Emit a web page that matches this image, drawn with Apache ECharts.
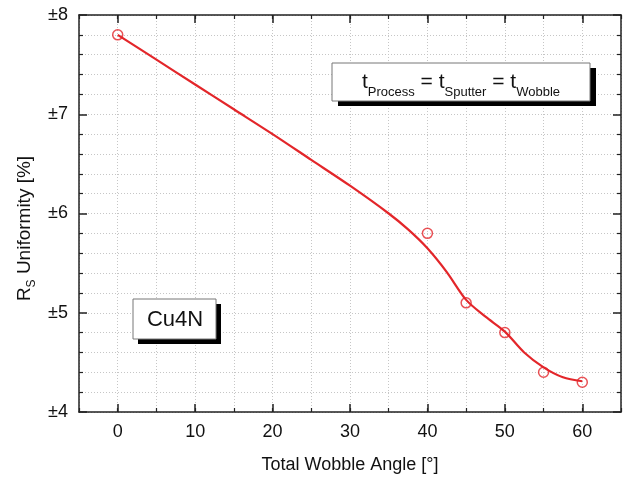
<!DOCTYPE html>
<html>
<head>
<meta charset="utf-8">
<script src="https://cdn.jsdelivr.net/npm/echarts@6/dist/echarts.min.js"></script>
<style>
html,body{margin:0;padding:0;background:#fff;}
#chart{width:624px;height:479px;}
</style>
</head>
<body>
<div id="chart"></div>
<script>
// ---- data ----
const X_TICKS = [0, 10, 20, 30, 40, 50, 60];
const Y_TICKS = [4, 5, 6, 7, 8];
const MEAS_X = [0, 40, 45, 50, 55, 60];
const MEAS_Y = [7.80, 5.80, 5.10, 4.80, 4.40, 4.30];
const FIT_X = [0, 5, 10, 15, 20, 25, 30, 35, 37.5, 40, 42.5, 45, 47.5, 50, 52.5, 55, 57.5, 60];
const FIT_Y = [7.80, 7.55, 7.30, 7.05, 6.80, 6.54, 6.28, 6.00, 5.84, 5.65, 5.41, 5.13, 4.96, 4.81, 4.60, 4.45, 4.35, 4.31];
const X_NAME = 'Total Wobble Angle [°]';
const Y_NAME = '{a|R}{s|S}{a| Uniformity [%]}';
const BOX1_TEXT = '{t|t}{s|Process}{t| = t}{s|Sputter}{t| = t}{s|Wobble}';
const BOX2_TEXT = 'Cu4N';

const FONT = '"Liberation Sans", Arial, Helvetica, sans-serif';
const AX = '#222';
const GRIDC = '#c6c6c6';
const RED = '#e3262a';

const chart = echarts.init(document.getElementById('chart'), null, {renderer: 'canvas'});

function xMinor(pos) {
  return {
    type: 'value', position: pos, min: -5, max: 65, interval: 5,
    axisLine: {show: true, onZero: false, lineStyle: {color: AX, width: 1.5}},
    axisTick: {show: true, inside: true, length: 4, lineStyle: {color: AX, width: 1.2}},
    axisLabel: {show: false},
    splitLine: {show: false}
  };
}
function xMajor(pos) {
  return {
    type: 'value', position: pos, min: -5, max: 65,
    axisLine: {show: false},
    axisTick: {show: true, inside: true, length: 8, customValues: X_TICKS, lineStyle: {color: AX, width: 1.5}},
    axisLabel: {show: false},
    splitLine: {show: false}
  };
}

const xMain = xMinor('bottom');
xMain.splitLine = {show: true, lineStyle: {type: [1, 2], color: GRIDC, width: 1}};
xMain.axisLabel = {
  show: true, fontSize: 18, color: '#111', fontFamily: FONT, margin: 11,
  formatter: v => (X_TICKS.indexOf(v) >= 0 ? String(v) : '')
};
xMain.name = X_NAME;
xMain.nameLocation = 'middle';
xMain.nameGap = 44;
xMain.nameTextStyle = {fontSize: 18, color: '#111', fontFamily: FONT};

function yAx(pos, main) {
  return {
    type: 'value', position: pos, min: Y_TICKS[0], max: Y_TICKS[Y_TICKS.length - 1], interval: 1,
    axisLine: {show: true, onZero: false, lineStyle: {color: AX, width: 1.5}},
    axisTick: {show: true, inside: true, length: 8, lineStyle: {color: AX, width: 1.5}},
    minorTick: {show: true, splitNumber: 5, length: 4, lineStyle: {color: AX, width: 1.2}},
    axisLabel: main ? {show: true, fontSize: 18, color: '#111', fontFamily: FONT, margin: 11,
      formatter: v => '±' + v} : {show: false},
    splitLine: {show: main, lineStyle: {type: [1, 2], color: GRIDC, width: 1}},
    minorSplitLine: {show: main, lineStyle: {type: [1, 2], color: GRIDC, width: 1}},
    name: main ? Y_NAME : '',
    nameLocation: 'middle',
    nameGap: 37,
    nameTextStyle: {
      fontSize: 19, color: '#111', fontFamily: FONT,
      padding: [0, 30, 0, 0],
      rich: {
        a: {fontSize: 19, color: '#111', fontFamily: FONT},
        s: {fontSize: 12, color: '#111', fontFamily: FONT, padding: [12, 0, 0, 0]}
      }
    }
  };
}

const option = {
  animation: false,
  backgroundColor: '#fff',
  grid: {left: 79, right: 3, top: 15, bottom: 67},
  xAxis: [xMain, xMajor('bottom'), xMinor('top'), xMajor('top')],
  yAxis: [yAx('left', true), yAx('right', false)],
  series: [
    {
      type: 'line', xAxisIndex: 0, yAxisIndex: 0,
      data: FIT_X.map((x, i) => [x, FIT_Y[i]]),
      smooth: 0.3, symbol: 'none',
      lineStyle: {color: RED, width: 2.2}, z: 3
    },
    {
      type: 'scatter', xAxisIndex: 0, yAxisIndex: 0,
      data: MEAS_X.map((x, i) => [x, MEAS_Y[i]]),
      symbol: 'circle', symbolSize: 10,
      itemStyle: {color: 'rgba(255,255,255,0)', borderColor: RED, borderWidth: 1.5}, z: 4
    }
  ],
  graphic: [
    {type: 'rect', z: 100, shape: {x: 338, y: 68, width: 258, height: 38}, style: {fill: '#000'}},
    {type: 'rect', z: 101, shape: {x: 332, y: 63, width: 258, height: 38}, style: {fill: '#fff', stroke: '#777', lineWidth: 1}},
    {type: 'text', z: 102, x: 461, y: 82, style: {
      text: BOX1_TEXT, align: 'center', verticalAlign: 'middle', fill: '#111',
      rich: {
        t: {fontSize: 21, fontFamily: FONT, fill: '#111'},
        s: {fontSize: 13, fontFamily: FONT, fill: '#111', padding: [20, 0, 0, 0]}
      }
    }},
    {type: 'rect', z: 100, shape: {x: 138, y: 304, width: 83, height: 40}, style: {fill: '#000'}},
    {type: 'rect', z: 101, shape: {x: 133, y: 299, width: 83, height: 40}, style: {fill: '#fff', stroke: '#777', lineWidth: 1}},
    {type: 'text', z: 102, x: 175, y: 320, style: {
      text: BOX2_TEXT, align: 'center', verticalAlign: 'middle', fill: '#111',
      fontSize: 22, fontFamily: FONT
    }}
  ]
};
chart.setOption(option);
</script>
</body>
</html>
